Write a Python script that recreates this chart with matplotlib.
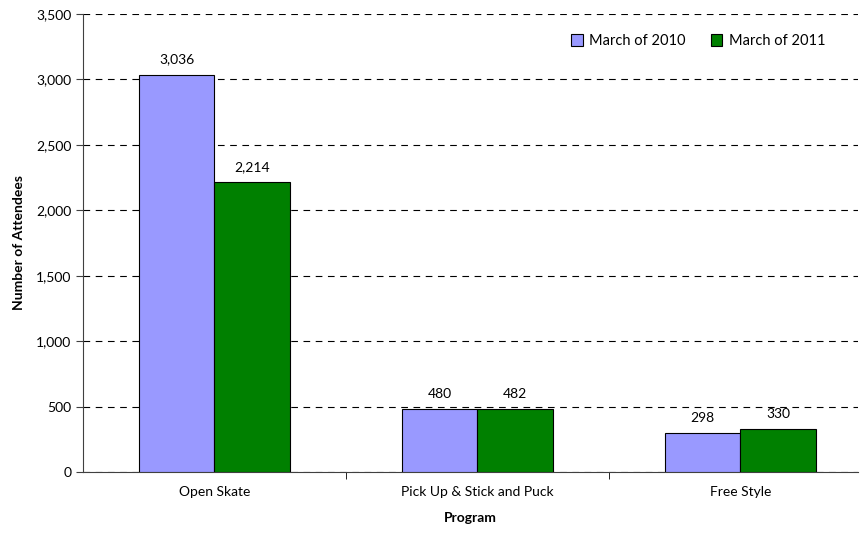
import matplotlib
matplotlib.use('Agg')
import matplotlib.pyplot as plt
import numpy as np

plt.rcParams['font.family'] = ['Lato', 'DejaVu Sans']

programs = ['Open Skate', 'Pick Up & Stick and Puck', 'Free Style']
march_2010 = [3036, 480, 298]
march_2011 = [2214, 482, 330]
series_labels = ['March of 2010', 'March of 2011']
yticks = [0, 500, 1000, 1500, 2000, 2500, 3000, 3500]

fig = plt.figure(figsize=(8.62, 5.4), dpi=100)
ax = fig.add_axes([0.0963, 0.126, 0.899, 0.848])

x = np.arange(len(programs))
w = 0.2875
b1 = ax.bar(x - w / 2, march_2010, w, color='#9999ff', edgecolor='black', linewidth=0.8,
            label=series_labels[0], zorder=3)
b2 = ax.bar(x + w / 2, march_2011, w, color='#008000', edgecolor='black', linewidth=0.8,
            label=series_labels[1], zorder=3)

for bars in (b1, b2):
    for r in bars:
        h = r.get_height()
        ax.text(r.get_x() + r.get_width() / 2, h + 70, '{:,}'.format(int(h)),
                ha='center', va='bottom', fontsize=10)

ax.set_ylim(0, 3500)
ax.set_xlim(-0.5, 2.447)
ax.set_yticks(yticks)
ax.set_yticklabels(['{:,}'.format(v) for v in yticks], fontsize=10)
ax.set_xticks(x)
ax.set_xticklabels(programs, fontsize=10)
ax.tick_params(axis='x', length=0, pad=10)
ax.set_xticks([0.5, 1.5], minor=True)
ax.tick_params(axis='x', which='minor', length=5, direction='out')
ax.tick_params(axis='y', length=5, direction='out', color='#404040')

ax.yaxis.grid(True, linestyle=(0, (6, 5)), color='black', linewidth=0.8, zorder=0)
ax.set_axisbelow(True)
for s in ['top', 'right']:
    ax.spines[s].set_visible(False)
ax.spines['left'].set_color('#404040')
ax.spines['bottom'].set_color('#404040')

ax.set_xlabel('Program', fontsize=10, fontweight='bold', labelpad=10)
ax.set_ylabel('Number of Attendees', fontsize=10, fontweight='bold', labelpad=8)

leg = ax.legend(loc='upper right', ncol=2, frameon=False, fontsize=10.5,
                handlelength=0.8, handleheight=0.8, columnspacing=1.7,
                handletextpad=0.45, bbox_to_anchor=(0.975, 0.985))

plt.savefig('out.png', dpi=100)
